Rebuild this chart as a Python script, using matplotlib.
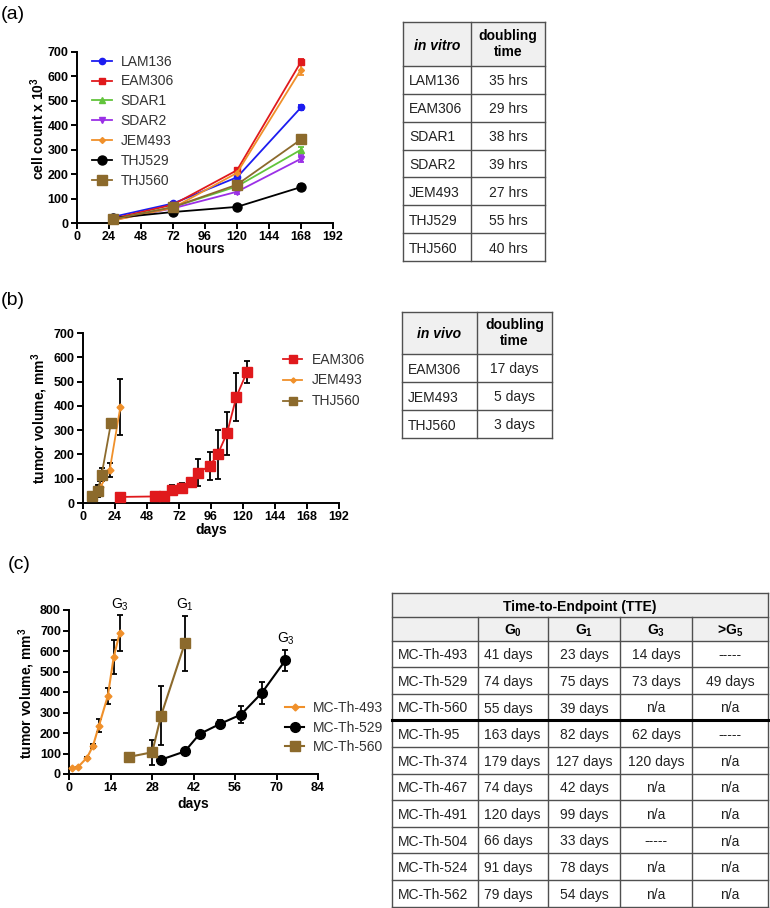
import matplotlib.pyplot as plt
from matplotlib.patches import Rectangle

plt.rcParams['font.family'] = ['Liberation Sans', 'DejaVu Sans']
plt.rcParams['mathtext.fontset'] = 'custom'
plt.rcParams['mathtext.rm'] = 'Liberation Sans'
plt.rcParams['mathtext.it'] = 'Liberation Sans:italic'
plt.rcParams['mathtext.bf'] = 'Liberation Sans:bold'

# ---- (a) in vitro growth, cell count x 10^3 ----
hours = [27, 72, 120, 168]
lam136 = [25, 80, 187, 473]
lam136_err = [4, 5, 15, 10]
eam306 = [18, 75, 216, 660]
eam306_err = [3, 4, 8, 10]
sdar1 = [15, 65, 150, 300]
sdar1_err = [3, 4, 10, 12]
sdar2 = [12, 60, 128, 263]
sdar2_err = [3, 4, 8, 15]
jem493 = [10, 62, 205, 628]
jem493_err = [3, 4, 10, 22]
thj529 = [20, 45, 66, 147]
thj529_err = [3, 3, 5, 12]
thj560 = [15, 65, 157, 342]
thj560_err = [3, 4, 10, 8]
names_a = ['LAM136', 'EAM306', 'SDAR1', 'SDAR2', 'JEM493', 'THJ529', 'THJ560']

# ---- (b) in vivo tumor volume ----
eam_days = [28, 54, 61, 67, 74, 81, 86, 95, 101, 108, 115, 123]
eam_vol = [25, 27, 30, 55, 62, 85, 125, 152, 200, 287, 437, 540]
eam_err = [3, 3, 4, 20, 22, 20, 55, 58, 100, 88, 98, 45]
jem_days = [6, 12, 13, 20, 28]
jem_vol = [28, 55, 65, 135, 395]
jem_err = [15, 20, 25, 28, 115]
thj_days = [7, 11, 14, 21]
thj_vol = [28, 50, 117, 330]
thj_err = [12, 25, 28, 0]
names_b = ['EAM306', 'JEM493', 'THJ560']

# ---- (c) MC-Th models ----
mc493_days = [1, 3, 6, 8, 10, 13, 15, 17]
mc493_vol = [28, 35, 80, 137, 235, 380, 570, 687]
mc493_err = [0, 0, 5, 8, 32, 40, 83, 87]
mc529_days = [31, 39, 44, 51, 58, 65, 73]
mc529_vol = [70, 110, 195, 245, 290, 395, 555]
mc529_err = [5, 5, 5, 20, 40, 55, 52]
mc560_days = [20, 28, 31, 39]
mc560_vol = [83, 106, 285, 637]
mc560_err = [5, 60, 145, 133]
names_c = ['MC-Th-493', 'MC-Th-529', 'MC-Th-560']
end_labels = ['$\\mathregular{G_3}$', '$\\mathregular{G_3}$', '$\\mathregular{G_1}$']

# ---- tables ----
vitro_lines = ['LAM136', 'EAM306', 'SDAR1', 'SDAR2', 'JEM493', 'THJ529', 'THJ560']
vitro_times = ['35 hrs', '29 hrs', '38 hrs', '39 hrs', '27 hrs', '55 hrs', '40 hrs']
vivo_lines = ['EAM306', 'JEM493', 'THJ560']
vivo_times = ['17 days', '5 days', '3 days']
tte_models = ['MC-Th-493', 'MC-Th-529', 'MC-Th-560', 'MC-Th-95', 'MC-Th-374',
              'MC-Th-467', 'MC-Th-491', 'MC-Th-504', 'MC-Th-524', 'MC-Th-562']
tte_g0 = ['41 days', '74 days', '55 days', '163 days', '179 days',
          '74 days', '120 days', '66 days', '91 days', '79 days']
tte_g1 = ['23 days', '75 days', '39 days', '82 days', '127 days',
          '42 days', '99 days', '33 days', '78 days', '54 days']
tte_g3 = ['14 days', '73 days', 'n/a', '62 days', '120 days',
          'n/a', 'n/a', '-----', 'n/a', 'n/a']
tte_g5 = ['-----', '49 days', 'n/a', '-----', 'n/a',
          'n/a', 'n/a', 'n/a', 'n/a', 'n/a']
tte_heads = ['', '$\\mathbf{G_0}$', '$\\mathbf{G_1}$', '$\\mathbf{G_3}$', '>$\\mathbf{G_5}$']

blue, red, green, purple = '#1c1cf0', '#e0191c', '#62c43c', '#9b30e6'
orange, brown = '#f0902a', '#8c6a2c'


def style_axes(ax, xmax, xstep, ymax, ystep):
    ax.spines[['top', 'right']].set_visible(False)
    ax.spines[['left', 'bottom']].set_linewidth(1.4)
    ax.set_xlim(0, xmax)
    ax.set_ylim(0, ymax)
    ax.set_xticks(range(0, xmax + 1, xstep))
    ax.set_yticks(range(0, ymax + 1, ystep))
    ax.tick_params(width=1.4, length=4, labelsize=9, pad=2)
    for lab in ax.get_xticklabels() + ax.get_yticklabels():
        lab.set_fontweight('bold')


def series(ax, x, y, err, color, marker, ms, label, ecolor='black', lw=1.3):
    ax.errorbar(x, y, yerr=err, fmt='none', ecolor=ecolor, elinewidth=1.3,
                capsize=2.5, capthick=1.3, clip_on=False, zorder=2)
    ax.plot(x, y, color=color, marker=marker, ms=ms, lw=lw, label=label,
            clip_on=False, zorder=3)


fig = plt.figure(figsize=(7.7, 9.08), dpi=100)
ax_a = fig.add_axes([77 / 770, 1 - 223 / 908, 256 / 770, 171 / 908])
ax_b = fig.add_axes([83 / 770, 1 - 503 / 908, 256 / 770, 170 / 908])
ax_c = fig.add_axes([69.3 / 770, 1 - 774 / 908, 248.7 / 770, 164 / 908])

# panel (a)
vals_a = [lam136, eam306, sdar1, sdar2, jem493, thj529, thj560]
errs_a = [lam136_err, eam306_err, sdar1_err, sdar2_err, jem493_err, thj529_err, thj560_err]
look_a = [(blue, 'o', 4.5), (red, 's', 5), (green, '^', 5), (purple, 'v', 5),
          (orange, 'D', 3), ('black', 'o', 6.5), (brown, 's', 6.5)]
for name, vals, errs, (col, mk, ms) in zip(names_a, vals_a, errs_a, look_a):
    series(ax_a, hours, vals, errs, col, mk, ms, name, ecolor=col)
style_axes(ax_a, 192, 24, 700, 100)
ax_a.set_xlabel('hours', fontsize=10, fontweight='bold')
ax_a.set_ylabel('cell count x 10$^{\\mathbf{3}}$', fontsize=10, fontweight='bold')
ax_a.xaxis.set_label_coords(0.5, -0.111)
ax_a.yaxis.set_label_coords(-0.117, 0.55)
leg = ax_a.legend(loc='upper left', bbox_to_anchor=(0.059, 0.985), frameon=False,
                  fontsize=10, handlelength=1.45, handletextpad=0.6,
                  labelspacing=0.42, borderpad=0, borderaxespad=0)
for t in leg.get_texts():
    t.set_color('#333333')

# panel (b)
series(ax_b, eam_days, eam_vol, eam_err, red, 's', 7, names_b[0])
series(ax_b, jem_days, jem_vol, jem_err, orange, 'D', 3.5, names_b[1])
series(ax_b, thj_days, thj_vol, thj_err, brown, 's', 7.5, names_b[2])
style_axes(ax_b, 192, 24, 700, 100)
ax_b.set_xlabel('days', fontsize=10, fontweight='bold')
ax_b.set_ylabel('tumor volume, mm$^{\\mathbf{3}}$', fontsize=10, fontweight='bold')
ax_b.xaxis.set_label_coords(0.5, -0.12)
ax_b.yaxis.set_label_coords(-0.129, 0.5)
leg = ax_b.legend(loc='upper left', bbox_to_anchor=(0.781, 0.885), frameon=False,
                  fontsize=10, handlelength=1.4, handletextpad=0.7,
                  labelspacing=0.5, borderpad=0, borderaxespad=0, markerscale=0.75)
for t in leg.get_texts():
    t.set_color('#333333')

# panel (c)
c_sets = [(mc493_days, mc493_vol, mc493_err, orange, 'D', 3.5),
          (mc529_days, mc529_vol, mc529_err, 'black', 'o', 7),
          (mc560_days, mc560_vol, mc560_err, brown, 's', 7)]
for (d, v, e, col, mk, ms), name, tag in zip(c_sets, names_c, end_labels):
    series(ax_c, d, v, e, col, mk, ms, name, lw=1.5)
    ax_c.annotate(tag, xy=(d[-1], v[-1] + e[-1]), xytext=(0, 2),
                  textcoords='offset points', ha='center', va='bottom',
                  fontsize=10, annotation_clip=False)
style_axes(ax_c, 84, 14, 800, 100)
ax_c.set_xlabel('days', fontsize=10, fontweight='bold')
ax_c.set_ylabel('tumor volume, mm$^{\\mathbf{3}}$', fontsize=10, fontweight='bold')
ax_c.xaxis.set_label_coords(0.5, -0.14)
ax_c.yaxis.set_label_coords(-0.13, 0.494)
leg = ax_c.legend(loc='upper left', bbox_to_anchor=(0.867, 0.445), frameon=False,
                  fontsize=10, handlelength=1.4, handletextpad=0.6,
                  labelspacing=0.4, borderpad=0, borderaxespad=0)
for t in leg.get_texts():
    t.set_color('#333333')

# panel letters
fig.text(0.001, 1 - 6 / 908, '(a)', fontsize=14, va='top')
fig.text(0.001, 1 - 292 / 908, '(b)', fontsize=14, va='top')
fig.text(8 / 770, 1 - 556 / 908, '(c)', fontsize=14, va='top')

# tables drawn in pixel coordinates on an overlay
tab = fig.add_axes([0, 0, 1, 1])
tab.set_xlim(0, 770)
tab.set_ylim(908, 0)
tab.axis('off')
edge = '#505050'
shade = '#f0f0f0'
fs = 10


def grid(xs, ys, y_inner_top=None):
    top = ys[0] if y_inner_top is None else y_inner_top
    for i, x in enumerate(xs):
        y0 = ys[0] if i in (0, len(xs) - 1) else top
        tab.plot([x, x], [y0, ys[-1]], color=edge, lw=1.0)
    for y in ys:
        tab.plot([xs[0], xs[-1]], [y, y], color=edge, lw=1.0)


def put(x0, x1, yc, text, align, **kw):
    if align == 'left':
        tab.text(x0 + 6, yc, text, ha='left', va='center_baseline', fontsize=fs, **kw)
    else:
        tab.text((x0 + x1) / 2, yc, text, ha='center', va='center_baseline', fontsize=fs, **kw)


def doubling_table(xs, top, head_h, row_h, title, lines, times):
    ys = [top, top + head_h] + [top + head_h + row_h * (i + 1) for i in range(len(lines))]
    tab.add_patch(Rectangle((xs[0], top), xs[-1] - xs[0], head_h, color=shade, lw=0))
    grid(xs, ys)
    put(xs[0], xs[1], top + head_h / 2, title, 'center', fontweight='bold', fontstyle='italic')
    tab.text((xs[1] + xs[2]) / 2, top + head_h / 2, 'doubling\ntime', ha='center',
             va='center', fontsize=fs, fontweight='bold', linespacing=1.15)
    for i, (ln, t) in enumerate(zip(lines, times)):
        yc = (ys[i + 1] + ys[i + 2]) / 2
        put(xs[0], xs[1], yc, ln, 'left', color='#222222')
        put(xs[1], xs[2], yc, t, 'center', color='#222222')


doubling_table([403, 471, 545], 22, 44, 27.85, 'in vitro', vitro_lines, vitro_times)
doubling_table([402, 477, 552], 312, 42, 28, 'in vivo', vivo_lines, vivo_times)

# time-to-endpoint table
cx = [392, 478, 548, 620, 692, 768]
ctop = 593
cy = [ctop, ctop + 24, ctop + 47.5] + [ctop + 47.5 + 26.6 * (i + 1) for i in range(len(tte_models))]
tab.add_patch(Rectangle((cx[0], cy[0]), cx[-1] - cx[0], cy[2] - cy[0], color=shade, lw=0))
grid(cx, cy, y_inner_top=cy[1])
tab.plot([cx[0], cx[-1]], [cy[5], cy[5]], color='black', lw=2.2)
put(cx[0], cx[-1], (cy[0] + cy[1]) / 2, 'Time-to-Endpoint (TTE)', 'center', fontweight='bold')
for j, h in enumerate(tte_heads):
    put(cx[j], cx[j + 1], (cy[1] + cy[2]) / 2, h, 'center', fontweight='bold')
for i in range(len(tte_models)):
    yc = (cy[i + 2] + cy[i + 3]) / 2
    row = [tte_models[i], tte_g0[i], tte_g1[i], tte_g3[i], tte_g5[i]]
    for j, txt in enumerate(row):
        put(cx[j], cx[j + 1], yc, txt, 'left' if j < 2 else 'center', color='#222222')

fig.savefig('out.png', dpi=100)
